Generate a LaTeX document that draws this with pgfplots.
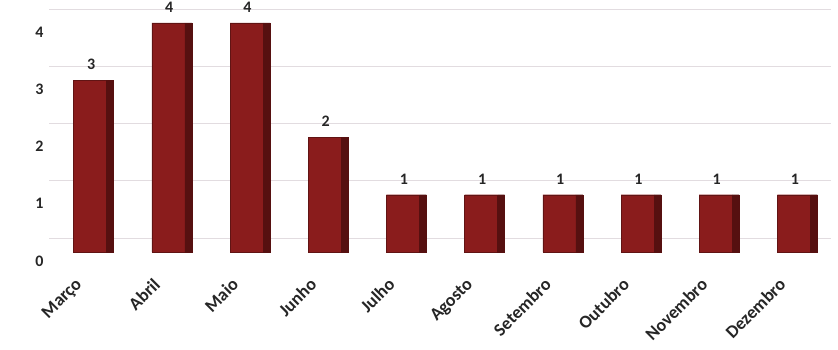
\documentclass[border=0pt]{standalone}
\usepackage{pgfplots}
\pgfplotsset{compat=1.18}
\usepackage{fontspec}
\setmainfont{Carlito}
\definecolor{barfront}{HTML}{8A1C1C}
\definecolor{barside}{HTML}{561010}
\definecolor{gridc}{HTML}{E2DCE0}
\begin{document}
\begin{tikzpicture}
\begin{axis}[
  scale only axis,
  width=782pt, height=243.5pt,
  xmin=-0.5, xmax=9.5, ymin=0, ymax=4.25,
  ybar, clip=false,
  axis line style={draw=none},
  major tick length=0pt,
  xtick=data,
  xticklabels={Março,Abril,Maio,Junho,Julho,Agosto,Setembro,Outubro,Novembro,Dezembro},
  xticklabel style={xshift=-14pt, yshift=-20pt, rotate=45, anchor=north east, font=\fontsize{18}{21}\selectfont\bfseries, color=black!85},
  ytick={0,1,2,3,4},
  yticklabel style={font=\fontsize{16}{19}\selectfont\bfseries, color=black!85, xshift=-2pt, yshift=-9pt},
  /pgf/number format/assume math mode=true,
  extra y ticks={0.24,1.24,2.24,3.24,4.24},
  extra y tick labels={},
  extra y tick style={grid=major, major grid style={gridc, line width=1pt}},
  nodes near coords style={font=\fontsize{16}{19}\selectfont\bfseries, color=black!85},
]
\addplot+[bar width=33pt, bar shift=2pt, fill=barfront, draw=barfront!70!black, nodes near coords, every node near coord/.append style={xshift=1pt, yshift=7pt}] coordinates {
(0,3) (1,4) (2,4) (3,2) (4,1) (5,1) (6,1) (7,1) (8,1) (9,1)};
\addplot+[bar width=7pt, bar shift=22pt, fill=barside, draw=barside] coordinates {
(0,3) (1,4) (2,4) (3,2) (4,1) (5,1) (6,1) (7,1) (8,1) (9,1)};
\end{axis}
\pgfresetboundingbox
\path (-49pt,-97pt) rectangle (789pt,252pt);
\end{tikzpicture}
\end{document}
